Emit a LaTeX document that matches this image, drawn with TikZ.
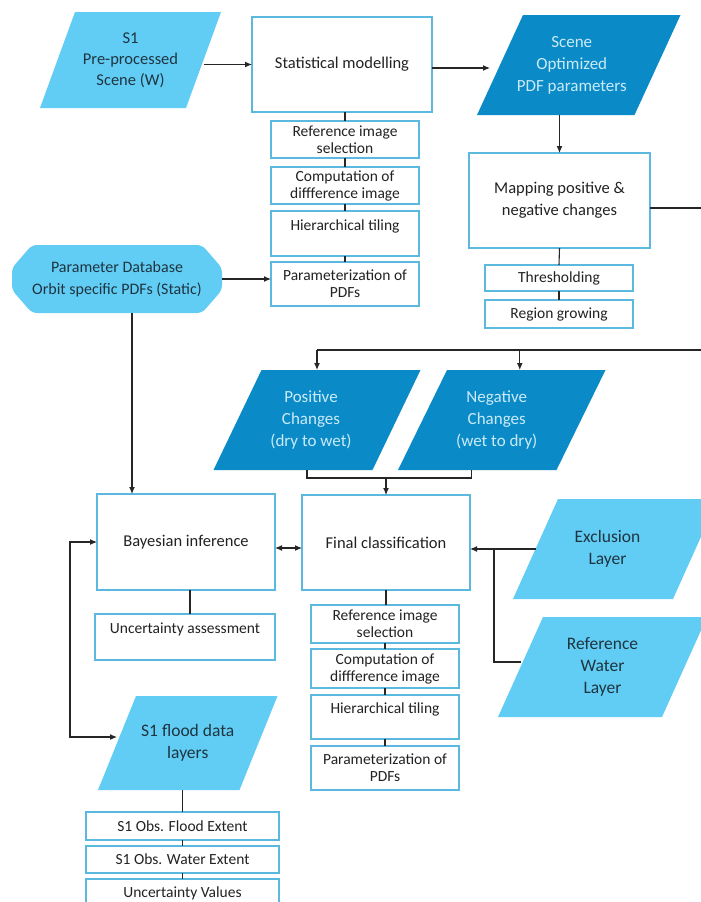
\documentclass[tikz,border=0pt]{standalone}
\usepackage{fontspec}
\setmainfont{Carlito}
\usetikzlibrary{arrows.meta,backgrounds,calc}
\definecolor{lb}{HTML}{62CDF4}
\definecolor{dkb}{HTML}{0A8BC7}
\definecolor{bd}{HTML}{5BB9DF}
\definecolor{tx}{HTML}{222222}
\definecolor{ptx}{HTML}{1E3440}
\definecolor{lt}{HTML}{CBEAF8}
\newcommand\parafill[3]{\fill[#1] ([xshift=#3]#2.north west) -- ([xshift=#3]#2.north east) -- ([xshift=-#3]#2.south east) -- ([xshift=-#3]#2.south west) -- cycle;}
\begin{document}
\begin{tikzpicture}[x=1pt,y=-1pt,
  box/.style={draw=bd, line width=1.3pt, fill=white, text=tx, align=center, inner sep=1pt, outer sep=0pt, font=\fontsize{16.5}{19}\selectfont},
  sbox/.style={box, font=\fontsize{15.5}{17}\selectfont},
  para/.style={align=center, inner sep=0pt, outer sep=0pt, text=ptx, font=\fontsize{16.5}{21}\selectfont},
  dpara/.style={para, text=lt, font=\fontsize{17}{22}\selectfont},
  ln/.style={draw=black!85, line width=1.1pt},
  arr/.style={ln, -{Latex[length=7pt,width=6pt]}},
  darr/.style={ln, {Latex[length=7pt,width=6pt]}-{Latex[length=7pt,width=6pt]}}]
\useasboundingbox (0,0) rectangle (701,902);

% ---- parallelogram / data nodes ----
\node[para, minimum width=146pt, minimum height=96pt] (s1) at (130.5,60) {S1\\Pre-processed\\Scene (W)};
\node[dpara, minimum width=157.5pt, minimum height=100pt] (scene) at (578.75,65) {\hspace*{-14pt}Scene\\\hspace*{-14pt}Optimized\\\hspace*{-14pt}PDF parameters};
\node[dpara, minimum width=159pt, minimum height=100pt] (pos) at (317,420) {\hspace*{-12pt}Positive\\\hspace*{-12pt}Changes\\\hspace*{-12pt}(dry to wet)};
\node[dpara, minimum width=158.5pt, minimum height=100pt] (neg) at (501.75,420) {\hspace*{-10pt}Negative\\\hspace*{-10pt}Changes\\\hspace*{-10pt}(wet to dry)};
\node[para, minimum width=160pt, minimum height=100pt, font=\fontsize{17.5}{22}\selectfont] (excl) at (615.5,549) {\hspace*{-16pt}Exclusion\\\hspace*{-16pt}Layer};
\node[para, minimum width=164pt, minimum height=100pt, font=\fontsize{17.5}{22}\selectfont] (refw) at (602.5,667) {Reference\\Water\\Layer};
\node[para, minimum width=141.5pt, minimum height=94pt, font=\fontsize{17.5}{22}\selectfont] (flood) at (187.75,743) {S1 flood data\\layers};
\node[para, minimum width=210pt, minimum height=68pt, font=\fontsize{16}{22}\selectfont] (db) at (117,279) {Parameter Database\\Orbit specific PDFs (Static)};

% ---- process boxes ----
\node[box, minimum width=180pt, minimum height=95pt] (stat) at (342,64.5) {Statistical modelling};
\node[sbox, minimum width=148pt, minimum height=37pt] (s1ref) at (345,139.5) {Reference image\\selection};
\node[sbox, minimum width=148pt, minimum height=37pt] (s1comp) at (345,185.5) {Computation of\\diffference image};
\node[sbox, minimum width=148pt, minimum height=45pt] (s1hier) at (345,233.5) {Hierarchical tiling\\\mbox{}};
\node[sbox, minimum width=148pt, minimum height=44pt] (s1par) at (345,284) {Parameterization of\\PDFs};

\node[box, minimum width=181pt, minimum height=95pt, font=\fontsize{16.5}{22}\selectfont] (map) at (559.5,200.5) {Mapping positive \&\\negative changes};
\node[sbox, minimum width=148pt, minimum height=26pt] (thr) at (559,278) {Thresholding};
\node[sbox, minimum width=148pt, minimum height=28pt] (reg) at (559,314) {Region growing};

\node[box, minimum width=178pt, minimum height=96pt] (bayes) at (186,542) {Bayesian inference};
\node[sbox, minimum width=180pt, minimum height=46pt] (unc) at (185,637) {Uncertainty assessment\\\mbox{}};

\node[box, minimum width=168pt, minimum height=95pt] (final) at (386,542.5) {Final classification};
\node[sbox, minimum width=148pt, minimum height=38pt] (fref) at (385,624) {Reference image\\selection};
\node[sbox, minimum width=148pt, minimum height=39pt] (fcomp) at (385,668.5) {Computation of\\diffference image};
\node[sbox, minimum width=148pt, minimum height=44pt] (fhier) at (385,717) {Hierarchical tiling\\\mbox{}};
\node[sbox, minimum width=148pt, minimum height=44pt] (fpar) at (385,768) {Parameterization of\\PDFs};

\node[sbox, minimum width=193pt, minimum height=28pt] (oflood) at (182.5,826) {S1 Obs. Flood Extent};
\node[sbox, minimum width=193pt, minimum height=27pt] (owater) at (182.5,859.5) {S1 Obs. Water Extent};
\node[sbox, minimum width=193pt, minimum height=28pt] (ounc) at (182.5,893) {Uncertainty Values};

% ---- shape fills ----
\begin{pgfonlayer}{background}
\fill[white] (0,0) rectangle (701,902);
\parafill{lb}{s1}{17.5pt}
\parafill{dkb}{scene}{23pt}
\parafill{dkb}{pos}{24pt}
\parafill{dkb}{neg}{24.5pt}
\parafill{lb}{excl}{22.5pt}
\parafill{lb}{refw}{22.5pt}
\parafill{lb}{flood}{19pt}
\fill[lb, rounded corners=5pt] ([xshift=20pt]db.north west) -- ([xshift=-20pt]db.north east) -- ([yshift=-23pt]db.north east) -- ([yshift=23pt]db.south east) -- ([xshift=-20pt]db.south east) -- ([xshift=20pt]db.south west) -- ([yshift=23pt]db.south west) -- ([yshift=-23pt]db.north west) -- cycle;
\end{pgfonlayer}

% ---- connectors ----
\draw[arr] (s1.east |- stat.west) -- (stat.west);
\draw[arr, shorten >=10pt] (stat.east |- 0,68) -- (scene.west |- 0,68);
\draw[ln] (s1ref.north |- stat.south) -- (s1ref.north);
\draw[ln] (s1ref.south) -- (s1comp.north);
\draw[ln] (s1comp.south) -- (s1hier.north);
\draw[ln] (s1hier.south) -- (s1par.north);
\draw[arr] (db.east) -- (db.east -| s1par.west);
\draw[arr] ([xshift=15pt]db.south) -- ([xshift=15pt]db.south |- bayes.north);

\draw[arr] (map.north |- scene.south) -- (map.north);
\draw[ln] (map.south) -- (thr.north);
\draw[ln] (thr.south) -- (reg.north);

\coordinate (busR) at (712,350);
\draw[ln] ([yshift=-7.5pt]map.east) -| (busR) -- (pos.north |- busR);
\draw[arr] (pos.north |- busR) -- (pos.north);
\draw[arr] ([xshift=18pt]neg.north |- busR) -- ([xshift=18pt]neg.north);

\draw[ln] ([xshift=-10pt]pos.south) -- ++(0,8) -| ([xshift=-30pt]neg.south);
\draw[arr] (final.north) ++(0,-17) -- (final.north);

\draw[darr] ([yshift=-6pt]bayes.east) -- ([yshift=-6pt]bayes.east -| final.west);
\draw[ln] ([xshift=4pt]bayes.south) -- ([xshift=4pt]bayes.south |- unc.north);

\coordinate (jn) at (494,549);
\draw[arr] (excl.west) -- (excl.west -| final.east);
\draw[ln] ([yshift=5pt]refw.west) -| (jn);

\draw[ln] (final.south) -- (fref.north -| final.south);
\draw[ln] (fref.south) -- (fcomp.north);
\draw[ln] (fcomp.south) -- (fhier.north);
\draw[ln] (fhier.south) -- (fpar.north);

\draw[darr] (bayes.west) -- ++(-27,0) |- ([yshift=6pt]flood.west);
\draw[ln] ([xshift=-5pt]flood.south) -- ([xshift=-5pt]flood.south |- oflood.north);
\draw[ln] (oflood.south) -- (owater.north);
\draw[ln] (owater.south) -- (ounc.north);
\end{tikzpicture}
\end{document}
